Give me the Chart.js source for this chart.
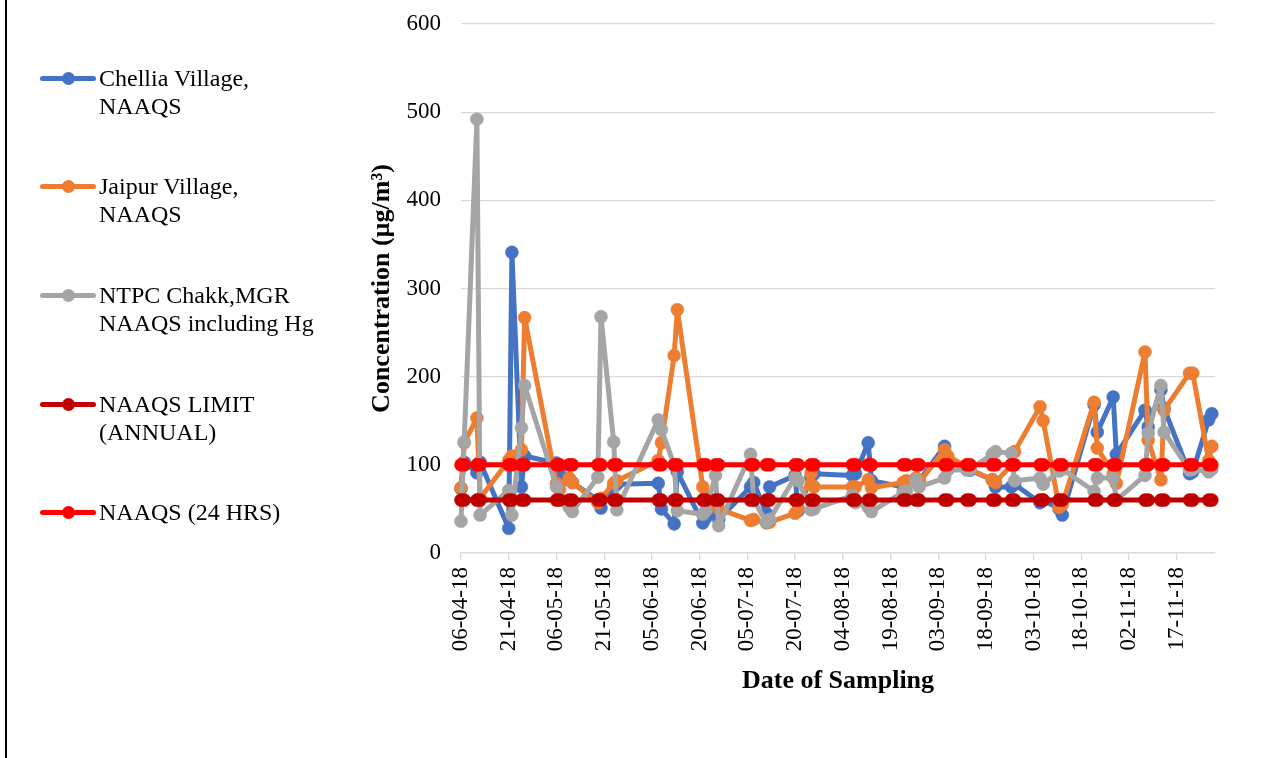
<!DOCTYPE html>
<html><head><meta charset="utf-8">
<script src="https://cdn.jsdelivr.net/npm/chart.js@4.4.0/dist/chart.umd.min.js"></script>
<style>
html,body{margin:0;padding:0;background:#fff;}
#wrap{position:relative;width:1268px;height:758px;overflow:hidden;background:#fff;}
#c{position:absolute;left:0;top:0;}
#frame{position:absolute;left:5px;top:0;width:2px;height:758px;background:#000;}
.legtxt{position:absolute;font-family:'Liberation Serif','Times New Roman',serif;font-size:24px;line-height:28px;color:#000;white-space:pre;}
.legline{position:absolute;height:5px;border-radius:3px;}
.legdot{position:absolute;width:13px;height:13px;border-radius:50%;}
</style></head><body>
<div id="wrap"><canvas id="c" width="1268" height="758"></canvas><div id="frame"></div><div id="legend"></div></div>
<script>
// ---- data ----
const sampleDates = ['06-04-18','07-04-18','11-04-18','12-04-18','21-04-18','22-04-18','25-04-18','26-04-18',
 '06-05-18','07-05-18','10-05-18','11-05-18','19-05-18','20-05-18','24-05-18','25-05-18',
 '07-06-18','08-06-18','12-06-18','13-06-18','21-06-18','22-06-18','25-06-18','26-06-18',
 '06-07-18','07-07-18','11-07-18','12-07-18','20-07-18','21-07-18','25-07-18','26-07-18',
 '07-08-18','08-08-18','12-08-18','13-08-18','23-08-18','24-08-18','27-08-18','28-08-18',
 '05-09-18','06-09-18','12-09-18','13-09-18','20-09-18','21-09-18','26-09-18','27-09-18',
 '05-10-18','06-10-18','11-10-18','12-10-18','22-10-18','23-10-18','28-10-18','29-10-18',
 '07-11-18','08-11-18','12-11-18','13-11-18','21-11-18','22-11-18','27-11-18','28-11-18'];
const chellia = [73,103,91,103,28,341,75,110, 102,90,83,80,60,51,75,78, 79,50,33,92,34,40,45,38,
 75,80,45,75,88,48,86,90, 88,90,125,82,75,78,80,82, 121,105,95,94,83,75,75,78,
 57,60,50,43,168,137,177,112, 162,143,185,164,90,92,151,158];
const jaipur = [74,125,153,62,105,110,117,267, 79,72,85,80,57,62,79,82, 105,125,224,276,75,65,55,50,
 37,38,34,35,45,50,90,75, 75,75,83,74,80,82,85,80, 117,110,98,95,83,80,100,115,
 166,150,52,55,171,119,90,79, 228,128,83,162,204,204,105,121];
const ntpc = [36,126,492,43,71,43,142,190, 75,62,52,47,86,268,126,49, 151,140,100,48,44,48,88,31,
 112,60,35,38,86,82,49,50, 65,57,52,47,69,70,83,75, 85,94,94,95,112,115,113,82,
 85,78,93,95,70,85,85,60, 88,136,190,137,94,95,92,95];
const naaqsAnnual = sampleDates.map(() => 60);
const naaqs24h = sampleDates.map(() => 100);
const tickLabels = ['06-04-18','21-04-18','06-05-18','21-05-18','05-06-18','20-06-18','05-07-18','20-07-18',
 '04-08-18','19-08-18','03-09-18','18-09-18','03-10-18','18-10-18','02-11-18','17-11-18'];
const yTicks = [0,100,200,300,400,500,600];
const seriesNames = [['Chellia Village,','NAAQS'],['Jaipur Village,','NAAQS'],['NTPC Chakk,MGR','NAAQS including Hg'],['NAAQS LIMIT','(ANNUAL)'],['NAAQS (24 HRS)']];
const seriesColors = ['#4472C4','#ED7D31','#A5A5A5','#C00000','#FF0000'];

// ---- helpers ----
const startMs = Date.UTC(2018,3,6);
function dayOf(s){const p=s.split('-');return Math.round((Date.UTC(2000+ +p[2],+p[1]-1,+p[0])-startMs)/86400000);}
const xDays = sampleDates.map(dayOf);
const toPts = vals => vals.map((v,i)=>({x:xDays[i],y:v}));
const FAM = "'Liberation Serif','Times New Roman',serif";

const valueSets = [chellia, jaipur, ntpc, naaqsAnnual, naaqs24h];
const datasets = valueSets.map((vals,i)=>({
  label: seriesNames[i].join(' '),
  data: toPts(vals),
  borderColor: seriesColors[i],
  backgroundColor: seriesColors[i],
  pointBackgroundColor: seriesColors[i],
  pointBorderColor: seriesColors[i],
  borderWidth: 5,
  borderJoinStyle: 'round',
  borderCapStyle: 'round',
  pointRadius: 6.5,
  pointBorderWidth: 0.5,
  tension: 0,
  clip: false,
  order: 5 - i
}));

new Chart(document.getElementById('c'), {
  type: 'line',
  data: { datasets },
  options: {
    responsive: false, animation: false, devicePixelRatio: 1,
    layout: { padding: { left: 340, right: 53, top: 24, bottom: 0 } },
    plugins: { legend: { display: false }, tooltip: { enabled: false } },
    scales: {
      x: {
        type: 'linear', min: 0, max: 237,
        afterFit: s => { s.height = 205; },
        ticks: { stepSize: 15, includeBounds: false, autoSkip: false, maxRotation: 90, minRotation: 90,
          padding: 7, color: '#000', font: { family: FAM, size: 23 },
          callback: v => tickLabels[Math.round(v/15)] },
        grid: { drawOnChartArea: false, drawTicks: true, tickLength: 7, color: '#d9d9d9', lineWidth: 1.3 },
        border: { display: true, color: '#d9d9d9', width: 1.3 },
        title: { display: true, text: 'Date of Sampling', color: '#000',
          font: { family: FAM, size: 26, weight: 'bold' }, padding: { top: 0, bottom: 61 } }
      },
      y: {
        min: 0, max: 600,
        afterFit: s => { s.width = 121; s.paddingTop = 0; s.paddingBottom = 0; },
        afterBuildTicks: s => { s.ticks = yTicks.map(v=>({value:v})); },
        ticks: { padding: 20, color: '#000', font: { family: FAM, size: 23 } },
        grid: { color: '#d9d9d9', lineWidth: 1.3, drawTicks: false },
        border: { display: false },
        title: { display: true, text: 'Concentration (µg/m³)', color: '#000',
          font: { family: FAM, size: 26, weight: 'bold' }, padding: { top: 27, bottom: 0 } }
      }
    }
  }
});

// ---- legend ----
const legend = document.getElementById('legend');
const symY = [78,186,295,404,512];
seriesNames.forEach((lines,i)=>{
  const ln = document.createElement('div'); ln.className='legline';
  ln.style.cssText += `left:40px;width:56px;top:${symY[i]-2.5}px;background:${seriesColors[i]};`;
  const dt = document.createElement('div'); dt.className='legdot';
  dt.style.cssText += `left:61.5px;top:${symY[i]-6.5}px;background:${seriesColors[i]};`;
  const tx = document.createElement('div'); tx.className='legtxt';
  tx.style.cssText += `left:99px;top:${symY[i]-14}px;`;
  tx.textContent = lines.join('\n');
  legend.appendChild(ln); legend.appendChild(dt); legend.appendChild(tx);
});
</script>
</body></html>
